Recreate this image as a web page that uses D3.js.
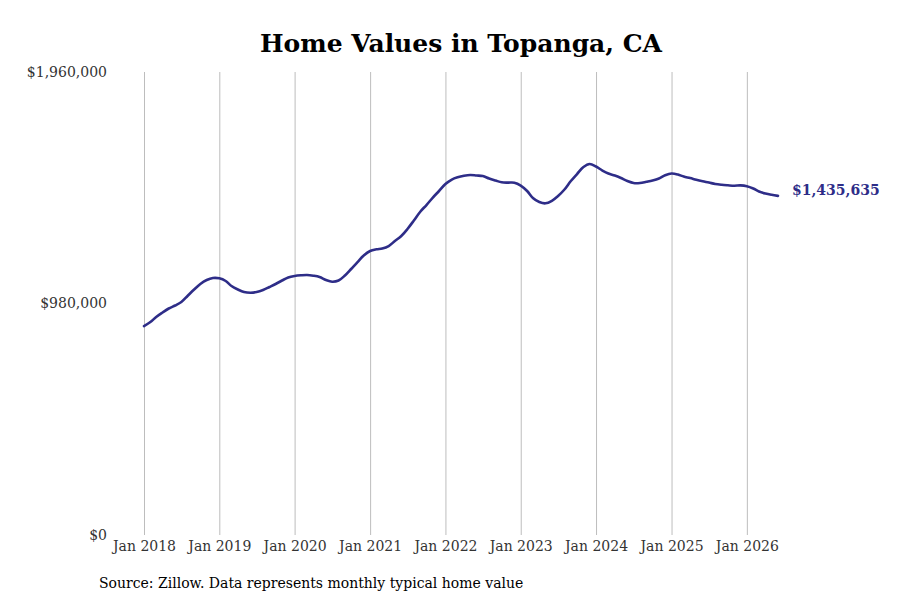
<!DOCTYPE html>
<html>
<head>
<meta charset="utf-8">
<script src="https://cdn.jsdelivr.net/npm/d3@7"></script>
<style>
body{margin:0;background:#fff}
svg{display:block}
.lbl{font-family:"DejaVu Serif",serif}
</style>
</head>
<body>
<div id="chart"></div>
<script>
// monthly typical home value, Jan 2018 .. Jun 2026
var startMonth = [2018, 0]
var values = [
  884700, 901600, 922800, 941800, 958800, 971500, 986300, 1012900, 1039200, 1062600, 1079400, 1088000,
  1086600, 1075200, 1054000, 1039200, 1028600, 1025700, 1028600, 1037100, 1049800, 1062500, 1077300, 1090000,
  1096300, 1099300, 1100600, 1097600, 1092100, 1079400, 1072200, 1077300, 1098500, 1126000, 1155600, 1183100,
  1202200, 1209400, 1212800, 1223300, 1244500, 1265700, 1295300, 1331300, 1368500, 1396900, 1428600, 1456200,
  1485800, 1504800, 1514100, 1520500, 1523900, 1521800, 1519600, 1509100, 1500600, 1493000, 1491700, 1491300,
  1479400, 1456200, 1426500, 1409600, 1404100, 1414700, 1435000, 1462500, 1498500, 1528100, 1557700, 1570400,
  1559900, 1542900, 1530200, 1521800, 1511200, 1498500, 1490000, 1490000, 1495100, 1500600, 1509100, 1522600,
  1530200, 1526000, 1517500, 1511200, 1504000, 1497600, 1492100, 1485800, 1482400, 1480300, 1478600, 1479900,
  1476500, 1466700, 1454000, 1445600, 1440100, 1435635
]
var yTicks = [0, 980000, 1960000]
var xTickYears = [2018, 2019, 2020, 2021, 2022, 2023, 2024, 2025, 2026]
var title = "Home Values in Topanga, CA"
var source = "Source: Zillow. Data represents monthly typical home value"

var W = 900, H = 600
var mLeft = 144, mRight = 778, mTop = 72, mBottom = 535
var lineColor = "#2e2d88"

var data = values.map(function(v, i){
  return {date: new Date(startMonth[0], startMonth[1] + i, 1), value: v}
})

var svg = d3.select("#chart").append("svg")
    .attr("width", W)
    .attr("height", H)

var x = d3.scaleTime()
    .domain(d3.extent(data, function(d){return d.date}))
    .range([mLeft, mRight])
var y = d3.scaleLinear()
    .domain([0, 1960000])
    .range([mBottom, mTop])

// vertical grid at each January
var gx = svg.append("g")
    .attr("transform", "translate(0," + mBottom + ")")
    .call(d3.axisBottom(x)
	  .tickValues(xTickYears.map(function(yr){return new Date(yr, 0, 1)}))
	  .tickSize(-(mBottom - mTop))
	  .tickPadding(6)
	  .tickFormat(d3.timeFormat("Jan %Y")))
gx.select(".domain").remove()
gx.selectAll("line").attr("stroke", "#bdbdbd").attr("stroke-width", 1)
gx.selectAll("text")
    .attr("class", "lbl")
    .attr("font-size", 14)
    .attr("fill", "#333")

var gy = svg.append("g")
    .attr("transform", "translate(107,0)")
    .call(d3.axisLeft(y)
	  .tickValues(yTicks)
	  .tickSize(0)
	  .tickPadding(0)
	  .tickFormat(function(d){return "$" + d3.format(",")(d)}))
gy.select(".domain").remove()
gy.selectAll("text")
    .attr("class", "lbl")
    .attr("font-size", 14)
    .attr("fill", "#333")

var line = d3.line()
    .x(function(d){return x(d.date)})
    .y(function(d){return y(d.value)})
    .curve(d3.curveCatmullRom.alpha(0.5))

svg.append("path")
    .datum(data)
    .attr("fill", "none")
    .attr("stroke", lineColor)
    .attr("stroke-width", 2.6)
    .attr("stroke-linejoin", "round")
    .attr("stroke-linecap", "round")
    .attr("d", line)

// end label sits a little above the last point
var last = data[data.length - 1]
svg.append("text")
    .attr("class", "lbl")
    .attr("x", x(last.date) + 14)
    .attr("y", y(last.value) - 5.5)
    .attr("dy", "0.35em")
    .attr("font-size", 14)
    .attr("font-weight", "bold")
    .attr("fill", lineColor)
    .text("$" + d3.format(",")(last.value))

svg.append("text")
    .attr("x", (mLeft + mRight) / 2)
    .attr("y", 52)
    .attr("text-anchor", "middle")
    .attr("font-family", "DejaVu Serif, serif")
    .attr("font-size", 25)
    .attr("font-weight", "bold")
    .attr("fill", "#000")
    .text(title)

svg.append("text")
    .attr("class", "lbl")
    .attr("x", 99)
    .attr("y", 588)
    .attr("font-size", 14)
    .attr("fill", "#000")
    .text(source)
</script>
</body>
</html>
